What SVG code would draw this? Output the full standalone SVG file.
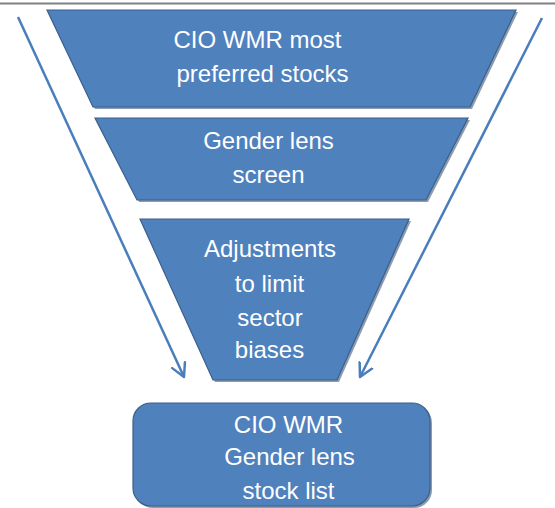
<svg xmlns="http://www.w3.org/2000/svg" width="555" height="508" viewBox="0 0 555 508">
<defs>
<style>
.shape{fill:#4F81BD;stroke:#3A5F8B;stroke-width:1.2}
.shadow{fill:#2E4A6E;opacity:0.55}
.lbl{font-family:"Liberation Sans",Arial,sans-serif;font-size:24px;fill:#FFFFFF;text-anchor:middle}
.conn{stroke:#4A7EBB;stroke-width:2.5;fill:none}
</style>
<marker id="arr" markerUnits="userSpaceOnUse" markerWidth="20" markerHeight="20" refX="14" refY="8" orient="auto" viewBox="0 0 20 16">
<path d="M1,1 L14,8 L1,15" fill="none" stroke="#4A7EBB" stroke-width="2.5" stroke-linecap="round" stroke-linejoin="round"/>
</marker>
</defs>
<rect width="555" height="508" fill="#FFFFFF"/>
<line x1="0" y1="3.5" x2="555" y2="3.5" stroke="#808080" stroke-width="2"/>
<g id="connectors">
<line class="conn" x1="18" y1="17" x2="184" y2="377" marker-end="url(#arr)"/>
<line class="conn" x1="542" y1="18" x2="360" y2="377" marker-end="url(#arr)"/>
</g>
<g id="step1">
<polygon class="shadow" points="49,12 518,12 472,109 95,109"/>
<polygon class="shape" points="47,10 516,10 470,107 93,107"/>
<text class="lbl" x="257.5" y="48">CIO WMR most</text>
<text class="lbl" x="262.5" y="82">preferred stocks</text>
</g>
<g id="step2">
<polygon class="shadow" points="97,120 470,120 428,202 139,202"/>
<polygon class="shape" points="95,118 468,118 426,200 137,200"/>
<text class="lbl" x="268.5" y="149">Gender lens</text>
<text class="lbl" x="268.5" y="183">screen</text>
</g>
<g id="step3">
<polygon class="shadow" points="142,221 411,221 339,382 215,382"/>
<polygon class="shape" points="140,219 409,219 337,380 213,380"/>
<text class="lbl" x="270" y="257">Adjustments</text>
<text class="lbl" x="269.5" y="292">to limit</text>
<text class="lbl" x="270" y="326">sector</text>
<text class="lbl" x="269.5" y="358">biases</text>
</g>
<g id="result">
<rect class="shadow" x="135" y="405" width="297" height="103" rx="18"/>
<rect class="shape" x="133" y="403" width="297" height="103" rx="18"/>
<text class="lbl" x="288.5" y="433">CIO WMR</text>
<text class="lbl" x="289.5" y="465">Gender lens</text>
<text class="lbl" x="288.5" y="499">stock list</text>
</g>
</svg>
